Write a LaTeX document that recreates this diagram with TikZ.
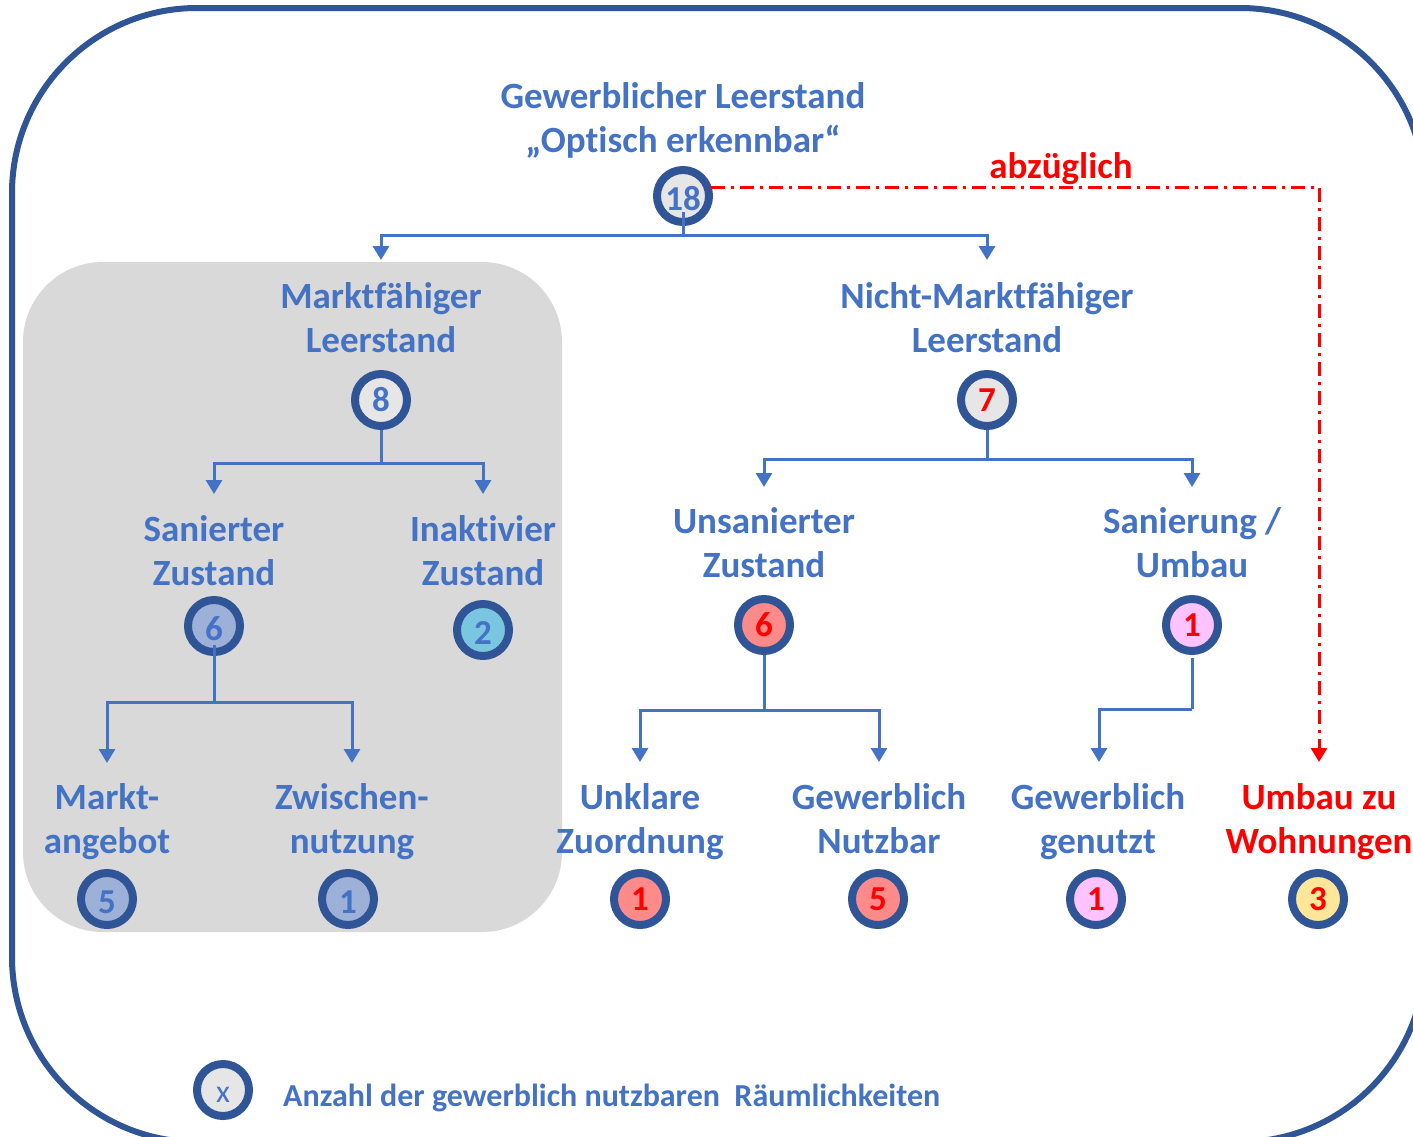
\documentclass[tikz,border=0pt]{standalone}
\usepackage{fontspec}
\setmainfont{Carlito}[Ligatures=NoCommon]
\usetikzlibrary{arrows.meta,calc}
\definecolor{tblue}{HTML}{4472C4}
\definecolor{dblue}{HTML}{2F5597}
\definecolor{cgray}{HTML}{E7E6E6}
\definecolor{boxgray}{HTML}{D9D9D9}
\definecolor{steel}{HTML}{9DB0D8}
\definecolor{cyanf}{HTML}{7AC6E0}
\definecolor{salmon}{HTML}{FF8A8A}
\definecolor{pinkf}{HTML}{FFC3FF}
\definecolor{yellowf}{HTML}{FFE699}
\definecolor{tred}{HTML}{FF0000}
\newcommand\lstrut{\rule[-10pt]{0pt}{38pt}}
\tikzset{
  lbl/.style={font=\fontsize{37}{44}\selectfont\bfseries, text=tblue, align=center, inner sep=0pt, anchor=north},
  redlbl/.style={lbl, text=tred},
  num/.style={circle, draw=dblue, line width=8pt, minimum size=52pt, inner sep=0pt,
    font=\fontsize{35}{35}\selectfont\bfseries, text=tblue, fill=cgray},
  lownum/.style={num, text height=29pt, text depth=0pt},
  rednum/.style={num, text=tred},
  link/.style={draw=tblue, line width=3pt},
  conn/.style={link, -{Triangle[width=16pt,length=14pt]}},
  redconn/.style={draw=tred, line width=3pt, dash pattern=on 14pt off 6pt on 3pt off 6pt,
    -{Triangle[width=16pt,length=14pt]}},
  outerbox/.style={draw=dblue, line width=6pt, rounded corners=185pt},
  graybox/.style={fill=boxgray, rounded corners=80pt}
}
\begin{document}
\begin{tikzpicture}[x=1pt,y=-1pt]
\useasboundingbox (0,0) rectangle (1413,1136);
\clip (0,0) rectangle (1413,1136);
\fill[white] (0,0) rectangle (1413,1136);
\draw[outerbox] (12,8) rectangle (1425,1142);
\fill[graybox] (23,262) rectangle (562,932);

% labels (anchor north = top of first-line strut = baseline - 28)
\node[lbl] (lTop) at (683,80) {\lstrut Gewerblicher Leerstand\\\lstrut „Optisch erkennbar“};
\node[lbl] (lMF) at (381,280) {\lstrut Marktfähiger\\\lstrut Leerstand};
\node[lbl] (lNM) at (987,280) {\lstrut Nicht-Marktfähiger\\\lstrut Leerstand};
\node[lbl] (lSZ) at (214,513) {\lstrut Sanierter\\\lstrut Zustand};
\node[lbl] (lIZ) at (483,513) {\lstrut Inaktivier\\\lstrut Zustand};
\node[lbl] (lUZ) at (764,505) {\lstrut Unsanierter\\\lstrut Zustand};
\node[lbl] (lSU) at (1192,505) {\lstrut Sanierung /\\\lstrut Umbau};
\node[lbl] (lMA) at (107,781) {\lstrut Markt-\\\lstrut angebot};
\node[lbl] (lZN) at (352,781) {\lstrut Zwischen-\\\lstrut nutzung};
\node[lbl] (lUK) at (640,781) {\lstrut Unklare\\\lstrut Zuordnung};
\node[lbl] (lGN) at (879,781) {\lstrut Gewerblich\\\lstrut Nutzbar};
\node[lbl] (lGG) at (1098,781) {\lstrut Gewerblich\\\lstrut genutzt};
\node[redlbl] (lUW) at (1319,781) {\lstrut Umbau zu\\\lstrut Wohnungen};
\node[redlbl, anchor=base] (lAbz) at (1061,178) {abzüglich};
\node[lbl, anchor=base west, font=\fontsize{32}{36}\selectfont\bfseries] (lLeg) at (283,1106) {Anzahl der gewerblich nutzbaren\ \ Räumlichkeiten};

% circles
\node[lownum] (n18) at (683,196) {18};
\node[num] (n8) at (381,400) {8};
\node[rednum] (n7) at (987,400) {7};
\node[lownum, fill=steel] (n6a) at (214,626) {6};
\node[lownum, fill=cyanf] (n2) at (483,630) {2};
\node[rednum, fill=salmon] (n6b) at (764,625) {6};
\node[rednum, fill=pinkf] (n1a) at (1192,625) {1};
\node[lownum, fill=steel] (n5a) at (107,899) {5};
\node[lownum, fill=steel] (n1b) at (348,899) {1};
\node[rednum, fill=salmon] (n1c) at (640,899) {1};
\node[rednum, fill=salmon] (n5b) at (878,899) {5};
\node[rednum, fill=pinkf] (n1d) at (1096,899) {1};
\node[rednum, fill=yellowf] (n3) at (1318,899) {3};
\node[num, font=\fontsize{32}{32}\selectfont, text height=25pt, text depth=0pt] (nx) at (223,1090) {x};

% junctions and arrow tips
\coordinate (s18) at (683,212);
\coordinate (j18) at (683,235);
\coordinate (aMF) at (381,260);
\coordinate (aNM) at (987,260);
\coordinate (j8) at (381,463);
\coordinate (aSZ) at (214,494);
\coordinate (aIZ) at (483,494);
\coordinate (j7) at (987,459);
\coordinate (aUZ) at (764,487);
\coordinate (aSU) at (1192,487);
\coordinate (s6a) at (214,645);
\coordinate (j6a) at (214,702);
\coordinate (aMA) at (107,763);
\coordinate (aZN) at (352,763);
\coordinate (j6b) at (764,710);
\coordinate (aUK) at (640,762);
\coordinate (aGN) at (879,762);
\coordinate (s1a) at (1192,658);
\coordinate (j1a) at (1192,709);
\coordinate (aGG) at (1099,762);
\coordinate (r18) at (711,187);
\coordinate (rc) at (1319,187);
\coordinate (aUW) at (1319,762);

% connectors
\draw[link] (s18) -- (j18);
\draw[conn] (j18) -| (aMF);
\draw[conn] (j18) -| (aNM);
\draw[link] (n8) -- (j8);
\draw[conn] (j8) -| (aSZ);
\draw[conn] (j8) -| (aIZ);
\draw[link] (n7) -- (j7);
\draw[conn] (j7) -| (aUZ);
\draw[conn] (j7) -| (aSU);
\draw[link] (s6a) -- (j6a);
\draw[conn] (j6a) -| (aMA);
\draw[conn] (j6a) -| (aZN);
\draw[link] (n6b) -- (j6b);
\draw[conn] (j6b) -| (aUK);
\draw[conn] (j6b) -| (aGN);
\draw[link] (s1a) -- (j1a);
\draw[conn] (j1a) -| (aGG);
\draw[redconn] (r18) -- (rc) -- (aUW);
\end{tikzpicture}
\end{document}
